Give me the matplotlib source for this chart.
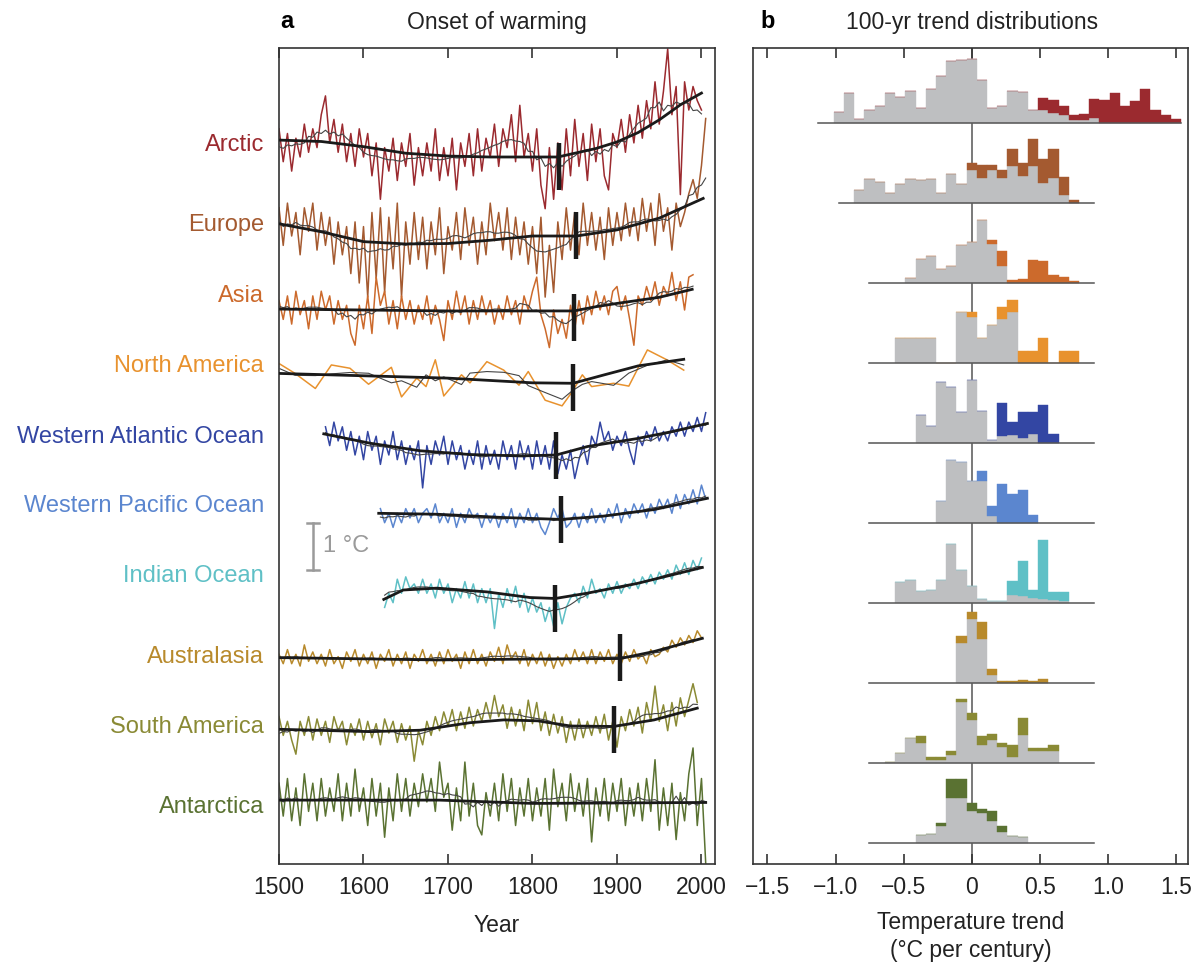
import numpy as np
import pandas as pd
import matplotlib.pyplot as plt

plt.rcParams['font.family'] = ['Liberation Sans', 'DejaVu Sans']

# Regionen / Farben
regions = ["Arctic", "Europe", "Asia", "North America", "Western Atlantic Ocean",
           "Western Pacific Ocean", "Indian Ocean", "Australasia", "South America", "Antarctica"]
colors = ["#9B2A2F", "#A45A30", "#CC6A2C", "#E8922E", "#3346A3",
          "#5B86CF", "#5FC0C6", "#B88A2C", "#8A8A35", "#5A7232"]
gray = "#BEBFC1"

# Rohdaten (Anomalie in °C, 5-Jahres-Schritte), Startjahr je Region
arctic_start = 1500
arctic_raw = [0.6, -0.1, 0.5, -0.3, 0.4, 0.0, 0.7, 0.1, 0.6, 0.2,
              0.9, 1.3, 0.3, 0.8, 0.1, 0.7, -0.1, 0.5, -0.2, 0.6,
              0.0, 0.5, -0.4, 0.3, -0.9, 0.2, -0.3, 0.4, -0.5, 0.3,
              -0.2, 0.5, -0.6, 0.2, -0.4, 0.3, -0.3, 0.6, -0.5, 0.2,
              -0.4, 0.4, -0.7, 0.3, -0.2, 0.5, -0.4, 0.6, -0.3, 0.4,
              0.0, 0.7, -0.2, 0.6, 0.2, 0.9, -0.1, 1.1, 0.0, 0.5,
              -0.3, 0.6, -0.6, -1.1, 0.2, -0.9, 0.3, -0.7, 0.6, -0.4,
              0.8, -0.2, 0.5, -0.5, 0.7, -0.1, 0.6, -0.4, -0.7, 0.5,
              0.2, 0.8, 0.1, 0.9, 0.3, 1.1, 0.4, 1.2, 0.6, 1.6,
              0.7, 1.4, 2.3, 0.9, 1.5, -0.8, 1.6, 1.0, 1.5, 1.2,
              1.0]
europe_start = 1500
europe_raw = [0.6, -0.2, 0.7, 0.0, 0.5, -0.4, 0.6, 0.1, 0.7, -0.3,
              0.5, -0.2, 0.4, -0.6, 0.3, -0.4, 0.2, -0.8, 0.3, -1.0,
              0.2, -1.3, 0.5, -0.9, 0.6, -1.2, 0.4, -0.7, 0.7, -1.3,
              0.3, -0.6, 0.5, -0.5, 0.4, -0.7, 0.3, -0.4, 0.6, -0.8,
              0.2, -0.3, 0.5, -0.5, 0.6, -0.2, 0.4, -0.6, 0.3, -0.4,
              0.7, -0.1, 0.5, -0.3, 0.6, -0.5, 0.4, -0.4, 0.3, -0.6,
              0.2, -0.8, 0.4, -1.3, -0.2, -1.2, 0.3, -0.5, 0.6, -0.3,
              0.5, -0.4, 0.7, -0.2, 0.5, -0.3, 0.4, -0.5, 0.6, -0.2,
              0.5, -0.1, 0.7, 0.0, 0.6, -0.1, 0.8, 0.1, 0.7, -0.2,
              0.9, 0.1, 0.6, -0.3, 0.7, 0.2, 0.5, 0.9, 1.2, 0.8,
              1.5, 2.5]
asia_start = 1500
asia_raw = [0.2, -0.2, 0.3, -0.3, 0.4, -0.1, 0.2, -0.4, 0.3, -0.2,
            0.4, 0.0, 0.3, -0.3, 0.2, -0.2, 0.1, -0.5, -0.75, 0.1,
            -0.4, 0.3, -0.5, 0.7, 0.1, 0.4, -0.3, 0.2, -0.4, 0.3,
            -0.2, 0.2, -0.3, 0.1, -0.2, 0.3, -0.3, 0.1, -0.2, -0.65,
            0.2, -0.2, 0.4, -0.1, 0.3, -0.3, 0.2, -0.2, 0.3, -0.1,
            0.2, -0.3, 0.1, -0.2, 0.3, -0.1, 0.2, -0.3, 0.3, 0.0,
            0.4, 0.7, -0.1, -0.4, -0.8, 0.0, -0.5, -0.2, -0.6, 0.1,
            -0.4, 0.2, -0.3, 0.3, -0.1, 0.4, 0.0, 0.3, -0.1, 0.4,
            0.5, 0.0, 0.3, -0.2, -0.75, 0.3, 0.1, 0.5, 0.2, 0.6,
            0.1, 0.5, 0.3, 0.8, 0.2, 0.6, 0.0, 0.7, 0.75]
# Nordamerika: grobe Auflösung, Jahre einzeln
na_years = [1501, 1519, 1543, 1562, 1584, 1606, 1633, 1645, 1663, 1674, 1685, 1695, 1716, 1726,
            1746, 1766, 1784, 1795, 1815, 1835, 1847, 1859, 1870, 1896, 1914, 1936, 1959, 1979]
na_raw = [0.34, 0.14, -0.18, 0.32, 0.25, -0.09, 0.27, -0.36, 0.04, -0.14, 0.43, -0.34, 0.11, -0.06,
          0.39, 0.21, -0.11, 0.18, -0.43, -0.55, -0.25, 0.11, -0.14, -0.07, -0.13, 0.64, 0.43, 0.21]
wao_start = 1555
wao_raw = [0.6, 0.2, 0.7, 0.3, 0.6, 0.1, 0.5, 0.0, 0.4, -0.1,
           0.5, 0.1, 0.4, -0.2, 0.3, 0.0, 0.5, -0.1, 0.3, -0.2,
           0.2, -0.1, 0.3, -0.7, 0.2, -0.2, 0.3, 0.0, 0.4, -0.2,
           0.3, -0.1, 0.2, -0.3, 0.1, -0.2, 0.3, -0.3, 0.2, -0.2,
           0.1, -0.3, 0.3, -0.1, 0.2, -0.3, 0.3, -0.1, 0.2, -0.3,
           0.3, -0.2, 0.2, -0.3, 0.3, -0.4, 0.0, -0.3, 0.1, -0.5,
           -0.1, 0.2, -0.2, 0.4, 0.2, 0.7, 0.3, 0.5, 0.1, 0.4,
           0.2, 0.5, 0.1, -0.2, 0.4, 0.2, 0.5, 0.3, 0.6, 0.3,
           0.5, 0.3, 0.6, 0.4, 0.7, 0.4, 0.7, 0.5, 0.8, 0.5,
           0.9]
wpo_start = 1620
wpo_raw = [0.2, -0.1, 0.1, -0.2, 0.1, -0.1, 0.2, 0.0, 0.2, -0.1,
           0.1, 0.2, 0.0, 0.3, -0.1, 0.1, -0.1, 0.2, -0.2, 0.1,
           -0.1, 0.2, 0.0, 0.1, -0.2, 0.1, -0.1, 0.1, -0.2, 0.1,
           -0.1, 0.2, -0.2, 0.1, -0.1, 0.2, -0.1, 0.1, -0.2, -0.35,
           -0.1, 0.2, 0.0, 0.2, -0.2, -0.1, 0.1, -0.2, 0.1, -0.1,
           0.2, -0.1, 0.1, -0.1, 0.2, 0.0, 0.3, -0.1, 0.2, 0.0,
           0.3, 0.1, 0.3, 0.0, 0.3, 0.1, 0.4, 0.2, 0.4, 0.1,
           0.5, 0.2, 0.5, 0.3, 0.6, 0.3, 0.7, 0.4]
io_start = 1625
io_raw = [-0.2, 0.1, -0.1, 0.4, 0.1, 0.45, 0.2, 0.3, 0.1, 0.4,
          0.1, 0.3, 0.0, 0.4, 0.1, 0.3, -0.1, 0.2, 0.0, 0.35,
          0.0, 0.3, -0.1, 0.2, -0.1, 0.2, -0.65, 0.1, -0.2, 0.2,
          -0.1, 0.25, -0.2, 0.1, -0.3, 0.0, -0.3, -0.1, -0.5, -0.2,
          -0.6, -0.1, -0.55, -0.2, 0.0, 0.1, -0.1, 0.25, 0.0, 0.4,
          0.1, 0.2, 0.0, 0.3, 0.1, 0.35, 0.1, 0.3, 0.2, 0.4,
          0.2, 0.45, 0.3, 0.5, 0.3, 0.55, 0.4, 0.6, 0.4, 0.7,
          0.5, 0.75, 0.5, 0.8, 0.6, 0.85]
aus_start = 1500
aus_raw = [0.1, -0.1, 0.2, -0.1, 0.1, -0.15, 0.3, -0.05, 0.15, -0.1,
           0.1, -0.15, 0.2, -0.1, 0.05, -0.2, 0.15, -0.05, 0.2, -0.15,
           0.1, -0.1, 0.15, -0.2, 0.1, -0.05, 0.2, -0.15, 0.1, -0.1,
           0.15, -0.2, 0.1, -0.05, 0.2, -0.1, 0.1, -0.15, 0.15, -0.1,
           0.2, -0.05, 0.1, -0.2, 0.15, -0.1, 0.2, -0.1, 0.1, -0.15,
           0.15, -0.05, 0.25, -0.1, 0.3, 0.0, 0.15, -0.1, 0.2, -0.15,
           0.1, -0.1, 0.15, -0.15, 0.1, -0.2, 0.05, -0.15, 0.1, -0.1,
           0.2, -0.05, 0.15, -0.1, 0.2, -0.1, 0.15, -0.05, 0.2, -0.1,
           0.1, -0.1, 0.15, -0.05, 0.2, 0.0, 0.1, -0.1, 0.2, 0.05,
           0.1, 0.25, 0.15, 0.4, 0.25, 0.45, 0.3, 0.5, 0.35, 0.6,
           0.45]
sa_start = 1500
sa_raw = [0.2, -0.2, 0.1, -0.3, -0.6, 0.1, -0.2, 0.2, -0.3, 0.15,
          -0.2, 0.1, -0.35, 0.2, -0.1, 0.1, -0.4, 0.05, -0.2, 0.15,
          -0.3, 0.1, -0.25, 0.05, -0.4, 0.15, -0.15, 0.1, -0.35, 0.05,
          -0.3, 0.0, -0.75, -0.1, -0.4, 0.1, -0.2, 0.2, -0.1, 0.3,
          0.0, 0.35, -0.1, 0.3, -0.05, 0.4, 0.0, 0.35, 0.1, 0.5,
          0.15, 0.65, 0.2, 0.45, -0.05, 0.4, 0.0, 0.35, -0.1, 0.55,
          0.05, 0.5, -0.1, 0.3, -0.2, 0.25, -0.15, 0.2, -0.35, 0.1,
          -0.3, 0.15, -0.25, 0.1, -0.2, 0.2, -0.15, 0.25, -0.3, 0.1,
          -0.45, 0.2, -0.1, 0.35, 0.0, 0.4, -0.15, 0.5, 0.1, 0.85,
          0.1, 0.45, -0.1, 0.5, 0.0, 0.6, 0.2, 0.55, 0.9, 0.5]
ant_start = 1500
ant_raw = [0.4, -0.3, 0.5, -0.4, 0.3, -0.5, 0.6, -0.2, 0.4, -0.4,
           0.5, -0.3, 0.3, -0.2, 0.6, -0.4, 0.4, -0.3, 0.7, -0.2,
           0.3, -0.5, 0.5, -0.3, 0.4, -0.75, 0.3, -0.4, 0.6, -0.2,
           0.5, -0.3, 0.4, -0.1, 0.6, 0.0, 0.5, -0.2, 0.85, 0.1,
           0.4, -0.6, 0.3, -0.4, 0.85, -0.3, 0.4, -0.5, -0.7, 0.2,
           -0.3, 0.4, -0.4, 0.6, -0.2, 0.5, -0.5, 0.3, -0.3, 0.5,
           -0.4, 0.3, -0.3, 0.5, -0.6, 0.7, -0.1, 0.4, -0.4, 0.6,
           -0.2, 0.4, -0.3, 0.5, -0.85, 0.3, -0.3, 0.5, -0.4, 0.4,
           -0.2, 0.5, -0.5, 0.3, -0.3, 0.4, -0.4, 0.5, -0.2, 0.9,
           -0.6, 0.3, -0.5, 0.4, -0.8, 0.2, -0.4, 0.6, 1.15, -0.5,
           0.5, -1.3]

# Ausgleichskurven (dicke schwarze Linie)
arctic_fit_yr = [1500, 1550, 1600, 1650, 1700, 1750, 1800, 1830, 1850, 1875, 1900, 1925, 1950, 1975, 2000]
arctic_fit = [0.36, 0.33, 0.22, 0.08, 0.02, 0.0, 0.0, 0.0, 0.08, 0.18, 0.32, 0.52, 0.79, 1.11, 1.36]
europe_fit_yr = [1500, 1550, 1600, 1650, 1700, 1750, 1800, 1852, 1900, 1950, 2002]
europe_fit = [0.26, 0.09, -0.12, -0.17, -0.16, -0.09, 0.0, 0.0, 0.13, 0.38, 0.8]
asia_fit_yr = [1500, 1600, 1700, 1800, 1849, 1875, 1900, 1950, 1989]
asia_fit = [0.02, 0.0, -0.02, -0.02, -0.02, 0.07, 0.14, 0.27, 0.44]
na_fit_yr = [1500, 1600, 1700, 1800, 1848, 1885, 1925, 1979]
na_fit = [0.14, 0.09, 0.04, -0.06, -0.07, 0.11, 0.3, 0.44]
wao_fit_yr = [1553, 1608, 1667, 1726, 1786, 1828, 1865, 1924, 1963, 2007]
wao_fit = [0.45, 0.25, 0.09, 0.01, -0.02, 0.0, 0.18, 0.35, 0.49, 0.67]
wpo_fit_yr = [1618, 1687, 1766, 1834, 1884, 1944, 2007]
wpo_fit = [0.1, 0.08, 0.01, -0.03, 0.04, 0.18, 0.42]
io_fit_yr = [1624, 1647, 1687, 1746, 1797, 1827, 1864, 1924, 2001]
io_fit = [-0.03, 0.17, 0.21, 0.13, 0.01, -0.01, 0.10, 0.31, 0.65]
aus_fit_yr = [1500, 1687, 1805, 1904, 1944, 2001]
aus_fit = [0.03, -0.02, 0.0, 0.01, 0.16, 0.44]
sa_fit_yr = [1500, 1608, 1667, 1726, 1766, 1806, 1845, 1896, 1944, 1995]
sa_fit = [-0.07, -0.12, -0.09, 0.07, 0.13, 0.11, 0.0, -0.01, 0.13, 0.38]
ant_fit_yr = [1500, 1690, 1800, 2005]
ant_fit = [0.04, 0.04, -0.03, -0.01]

# Beginn der Erwärmung (Jahr, Niveau der Markierung)
onset_year = [1831, 1852, 1849, 1848, 1828, 1834, 1827, 1904, 1896, None]
onset_level = [-0.21, 0.02, -0.17, -0.17, -0.02, -0.04, -0.23, 0.03, -0.08, None]

# Histogramme (Klassenbreite 0.075 °C/Jh., erste Klasse = Index * 0.075)
bin_w = 0.075
hist_first = [-13, -11, -6, -7, -5, -3, -7, -1, -8, -5]
hist_gray = [
    [11, 30, 4, 13, 17, 30, 26, 32, 15, 34, 47, 62, 63, 64, 43, 15, 17, 32, 31, 13,
     13, 10, 8, 3, 3, 5, 0, 0, 0, 0, 0, 0, 0, 0],
    [13, 24, 21, 10, 19, 24, 23, 24, 10, 29, 19, 33, 25, 33, 25, 37, 27, 37, 20, 25, 8, 0],
    [5, 24, 27, 14, 17, 38, 41, 63, 39, 17, 0, 0, 0, 0, 0, 0, 0],
    [25, 25, 25, 25, 0, 0, 51, 46, 25, 38, 44, 51, 0, 0, 0, 0, 0, 0],
    [28, 17, 61, 56, 31, 63, 32, 3, 7, 8, 5, 9, 0, 0],
    [22, 63, 61, 42, 42, 7, 0, 0, 0, 0],
    [21, 23, 12, 13, 23, 59, 33, 17, 4, 2, 2, 8, 7, 5, 4, 3, 2],
    [40, 64, 44, 8, 0, 0, 0, 0, 0],
    [1, 10, 25, 20, 3, 3, 8, 61, 43, 18, 23, 16, 6, 28, 12, 12, 12],
    [8, 9, 17, 45, 45, 32, 30, 22, 11, 7, 6],
]
hist_color = [
    [0] * 20 + [12, 13, 9, 5, 6, 19, 23, 30, 17, 22, 34, 13, 8, 4],
    [0] * 11 + [7, 13, 5, 8, 17, 13, 27, 24, 29, 18, 3],
    [0] * 8 + [4, 15, 3, 4, 23, 22, 8, 6, 2],
    [0, 0, 0, 0, 0, 0, 0, 5, 0, 0, 12, 12, 12, 12, 25, 0, 12, 12],
    [0] * 8 + [33, 13, 26, 22, 38, 9],
    [0, 0, 0, 0, 10, 10, 39, 29, 33, 8],
    [0] * 11 + [14, 35, 8, 59, 8, 9],
    [7, 7, 17, 6, 2, 2, 3, 2, 4],
    [0, 0, 0, 7, 3, 3, 4, 3, 7, 9, 6, 4, 12, 17, 3, 3, 6],
    [0, 0, 3, 19, 19, 8, 4, 10, 6, 0, 0],
]

# Layout (Pixelzeilen der Referenz)
row_px = [157, 236, 310, 380, 455, 518, 598, 659, 726, 802]
label_px = [145, 225, 296, 366, 437, 506, 576, 657, 727, 807]
base_b_px = [123 + 80 * i for i in range(10)]
base_b_ext = [(-1.13, 1.54), (-0.975, 0.9)] + [(-0.755, 0.9)] * 8
px_per_deg = 47.0

raw_series = []
for start, vals in [(arctic_start, arctic_raw), (europe_start, europe_raw), (asia_start, asia_raw)]:
    raw_series.append((start + 5 * np.arange(len(vals)), np.array(vals)))
raw_series.append((np.array(na_years), np.array(na_raw)))
for start, vals in [(wao_start, wao_raw), (wpo_start, wpo_raw), (io_start, io_raw),
                    (aus_start, aus_raw), (sa_start, sa_raw), (ant_start, ant_raw)]:
    raw_series.append((start + 5 * np.arange(len(vals)), np.array(vals)))
fits = [(arctic_fit_yr, arctic_fit), (europe_fit_yr, europe_fit), (asia_fit_yr, asia_fit),
        (na_fit_yr, na_fit), (wao_fit_yr, wao_fit), (wpo_fit_yr, wpo_fit), (io_fit_yr, io_fit),
        (aus_fit_yr, aus_fit), (sa_fit_yr, sa_fit), (ant_fit_yr, ant_fit)]

fig = plt.figure(figsize=(11.98, 9.68), dpi=100)
W, H = 1198.0, 968.0
ax = fig.add_axes([279 / W, 1 - 864 / H, (715 - 279) / W, (864 - 48) / H])
ax2 = fig.add_axes([753 / W, 1 - 864 / H, (1188 - 753) / W, (864 - 48) / H])

# ---- Panel a ----
ax.set_xlim(1500, 2016)
ax.set_ylim(0, 816 / px_per_deg)
for i, name in enumerate(regions):
    off = (864 - row_px[i]) / px_per_deg
    yrs, vals = raw_series[i]
    ax.plot(yrs, vals + off, color=colors[i], lw=1.1, zorder=2)
    win = 3 if name == "North America" else 10
    thin = pd.Series(vals).rolling(win, center=True, min_periods=1).mean().values
    ax.plot(yrs, thin + off, color="#444444", lw=0.8, zorder=3)
    fy, fv = fits[i]
    ax.plot(fy, np.array(fv) + off, color="#1a1a1a", lw=2.0, zorder=4)
    if onset_year[i] is not None:
        c = onset_level[i] + off
        ax.plot([onset_year[i]] * 2, [c - 0.5, c + 0.5], color="#1a1a1a", lw=3.2,
                solid_capstyle="butt", zorder=5)
    ax.text(264 / W, 1 - label_px[i] / H, name, color=colors[i], fontsize=17,
            ha="right", va="center", transform=fig.transFigure)

# 1 °C Maßstab
y0 = (864 - 570) / px_per_deg
ax.plot([1540, 1540], [y0, y0 + 1], color="#9a9a9a", lw=1.8)
ax.plot([1533, 1547], [y0, y0], color="#9a9a9a", lw=1.8)
ax.plot([1533, 1547], [y0 + 1, y0 + 1], color="#9a9a9a", lw=1.8)
ax.text(1552, y0 + 0.5, "1 °C", color="#9a9a9a", fontsize=17, va="center", ha="left")

ax.set_xticks([1500, 1600, 1700, 1800, 1900, 2000])
ax.set_yticks([])

# ---- Panel b ----
ax2.set_xlim(-1.606, 1.588)
ax2.set_ylim(0, 816)
ax2.axvline(0, color="#555555", lw=1.1, zorder=0)
for i in range(10):
    b = 864 - base_b_px[i]
    n = len(hist_gray[i])
    centers = (hist_first[i] + np.arange(n)) * bin_w
    g = np.array(hist_gray[i], dtype=float)
    c = np.array(hist_color[i], dtype=float)
    ax2.bar(centers, g, width=bin_w, bottom=b, color=gray, edgecolor=gray, lw=0.3, zorder=2)
    ax2.bar(centers, c, width=bin_w, bottom=b + g, color=colors[i], edgecolor=colors[i],
            lw=0.3, zorder=2)
    x0, x1 = base_b_ext[i]
    ax2.plot([x0, x1], [b, b], color="#555555", lw=1.1, zorder=3)

ax2.set_xticks([-1.5, -1.0, -0.5, 0, 0.5, 1.0, 1.5])
ax2.set_xticklabels(["\u22121.5", "\u22121.0", "\u22120.5", "0", "0.5", "1.0", "1.5"])
ax2.set_yticks([])

for a in (ax, ax2):
    for s in a.spines.values():
        s.set_color("#333333")
        s.set_linewidth(1.2)
    a.tick_params(axis="x", direction="in", length=7, width=1.2, top=True, color="#333333",
                  labelsize=16.5, pad=9, labelcolor="#222222")

# Titel und Achsenbeschriftungen
fig.text(280 / W, 1 - 22 / H, "a", fontsize=17, fontweight="bold", va="center", ha="left")
fig.text(497 / W, 1 - 22 / H, "Onset of warming", fontsize=16.5, va="center", ha="center",
         color="#222222")
fig.text(760 / W, 1 - 22 / H, "b", fontsize=17, fontweight="bold", va="center", ha="left")
fig.text(972 / W, 1 - 22 / H, "100-yr trend distributions", fontsize=16.5, va="center",
         ha="center", color="#222222")
fig.text(497 / W, 1 - 925 / H, "Year", fontsize=16.5, va="center", ha="center", color="#222222")
fig.text(971 / W, 1 - 923 / H, "Temperature trend", fontsize=16.5, va="center", ha="center",
         color="#222222")
fig.text(971 / W, 1 - 951 / H, "(°C per century)", fontsize=16.5, va="center", ha="center",
         color="#222222")

fig.savefig("out.png", dpi=100)
